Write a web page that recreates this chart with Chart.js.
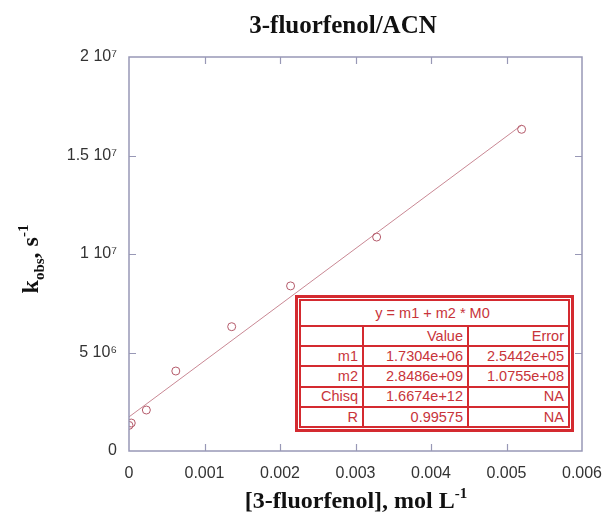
<!DOCTYPE html>
<html>
<head>
<meta charset="utf-8">
<script src="https://cdn.jsdelivr.net/npm/chart.js@4/dist/chart.umd.min.js"></script>
<style>
  body { margin: 0; background: #fff; }
  #wrap { position: relative; width: 608px; height: 520px; }
  #fit {
    position: absolute; left: 295px; top: 295px; width: 279px; height: 137px;
    box-sizing: border-box; border: 3px solid #d42a30; padding: 1px; background: #fff;
  }
  #fit table { border-collapse: collapse; width: 100%; height: 100%; table-layout: fixed; }
  #fit td {
    border: 2px solid #d42a30; color: #c8343a; font: 14.5px "Liberation Sans", Arial, sans-serif;
    text-align: right; padding: 0 4px 0 0; line-height: 1;
  }
  #fit td.head { text-align: center; height: 24px; }
</style>
</head>
<body>
<div id="wrap">
  <canvas id="chart" width="608" height="520"></canvas>
  <div id="fit"><table id="fit-table"></table></div>
</div>
<script>
// measured points
const concData = [0, 0.00003, 0.00023, 0.00062, 0.00136, 0.00214, 0.00328, 0.0052];
const kobsData = [1.30e6, 1.42e6, 2.08e6, 4.06e6, 6.31e6, 8.38e6, 10.86e6, 16.33e6];

// fitted line ends
const fitX = [0, 0.0052];
const fitY = [1.7304e6, 16.54e6];

const xTickLabels = ['0', '0.001', '0.002', '0.003', '0.004', '0.005', '0.006'];
const yTickLabels = ['0', '5 10⁶', '1 10⁷', '1.5 10⁷', '2 10⁷'];

// fit result box
const fitEquation = 'y = m1 + m2 * M0';
const fitHeaders = ['', 'Value', 'Error'];
const fitNames = ['m1', 'm2', 'Chisq', 'R'];
const fitValues = ['1.7304e+06', '2.8486e+09', '1.6674e+12', '0.99575'];
const fitErrors = ['2.5442e+05', '1.0755e+08', 'NA', 'NA'];

let html = '<colgroup><col style="width:63px"><col style="width:105px"><col></colgroup>';
html += '<tr><td class="head" colspan="3">' + fitEquation + '</td></tr>';
html += '<tr>' + fitHeaders.map(h => '<td>' + h + '</td>').join('') + '</tr>';
fitNames.forEach((n, i) => {
  html += '<tr><td>' + n + '</td><td>' + fitValues[i] + '</td><td>' + fitErrors[i] + '</td></tr>';
});
document.getElementById('fit-table').innerHTML = html;

const frameColor = '#9898b6';
const serif = '"Liberation Serif", "Times New Roman", serif';

// draws a run of [text, size, dy] pieces centered on 0
function drawPieces(ctx, pieces) {
  let total = 0;
  pieces.forEach(p => { ctx.font = 'bold ' + p[1] + 'px ' + serif; total += ctx.measureText(p[0]).width; });
  let x = -total / 2;
  pieces.forEach(p => {
    ctx.font = 'bold ' + p[1] + 'px ' + serif;
    ctx.fillText(p[0], x, p[2]);
    x += ctx.measureText(p[0]).width;
  });
}

const framePlugin = {
  id: 'frame',
  afterDraw(chart) {
    const ctx = chart.ctx;
    const a = chart.chartArea;
    const xs = chart.scales.x, ys = chart.scales.y;
    ctx.save();
    ctx.strokeStyle = frameColor;
    ctx.lineWidth = 1.5;
    ctx.strokeRect(a.left, a.top, a.right - a.left, a.bottom - a.top);
    ctx.lineWidth = 1.2;
    ctx.beginPath();
    xs.ticks.forEach((t, i) => {
      if (i === 0 || i === xs.ticks.length - 1) return;
      const px = Math.round(xs.getPixelForValue(t.value)) + 0.5;
      ctx.moveTo(px, a.bottom); ctx.lineTo(px, a.bottom - 7);
      ctx.moveTo(px, a.top); ctx.lineTo(px, a.top + 7);
    });
    ys.ticks.forEach((t, i) => {
      if (i === 0 || i === ys.ticks.length - 1) return;
      const py = Math.round(ys.getPixelForValue(t.value)) + 0.5;
      ctx.moveTo(a.left, py); ctx.lineTo(a.left + 7, py);
      ctx.moveTo(a.right, py); ctx.lineTo(a.right - 7, py);
    });
    ctx.stroke();

    // titles
    ctx.fillStyle = '#111';
    ctx.textBaseline = 'alphabetic';
    ctx.textAlign = 'left';
    ctx.save();
    ctx.translate(343, 33);
    drawPieces(ctx, [['3-fluorfenol/ACN', 25, 0]]);
    ctx.restore();

    ctx.save();
    ctx.translate(356, 508);
    drawPieces(ctx, [['[3-fluorfenol], mol L', 24, 0], ['-1', 15, -10]]);
    ctx.restore();

    ctx.save();
    ctx.translate(38, 259);
    ctx.rotate(-Math.PI / 2);
    drawPieces(ctx, [['k', 24, 0], ['obs', 15, 6], [', s', 24, 0], ['-1', 15, -10]]);
    ctx.restore();
    ctx.restore();
  }
};

new Chart(document.getElementById('chart'), {
  type: 'scatter',
  data: {
    datasets: [
      {
        label: 'fit',
        data: fitX.map((x, i) => ({ x: x, y: fitY[i] })),
        showLine: true,
        borderColor: '#c98894',
        borderWidth: 1,
        pointRadius: 0,
        order: 2
      },
      {
        label: 'kobs',
        data: concData.map((x, i) => ({ x: x, y: kobsData[i] })),
        pointRadius: 4,
        pointStyle: 'circle',
        borderColor: '#b45a6a',
        backgroundColor: 'rgba(0,0,0,0)',
        borderWidth: 1,
        order: 1
      }
    ]
  },
  options: {
    responsive: false,
    animation: false,
    devicePixelRatio: 1,
    layout: { padding: { top: 57, right: 26, left: 0, bottom: 0 } },
    plugins: { legend: { display: false }, tooltip: { enabled: false } },
    scales: {
      x: {
        type: 'linear', min: 0, max: 0.006,
        grid: { display: false, drawTicks: false },
        border: { display: false },
        ticks: {
          stepSize: 0.001, padding: 13, color: '#333',
          font: { family: '"Liberation Sans", Arial, sans-serif', size: 16 },
          callback: (v, i) => xTickLabels[i]
        },
        afterFit: s => { s.height = 69; s.paddingLeft = 0; s.paddingRight = 0; }
      },
      y: {
        type: 'linear', min: 0, max: 2e7,
        grid: { display: false, drawTicks: false },
        border: { display: false },
        ticks: {
          stepSize: 5e6, padding: 12, color: '#333',
          font: { family: '"Liberation Sans", Arial, sans-serif', size: 16 },
          callback: (v, i) => yTickLabels[i]
        },
        afterFit: s => { s.width = 129; s.paddingTop = 0; s.paddingBottom = 0; }
      }
    }
  },
  plugins: [framePlugin]
});
</script>
</body>
</html>
